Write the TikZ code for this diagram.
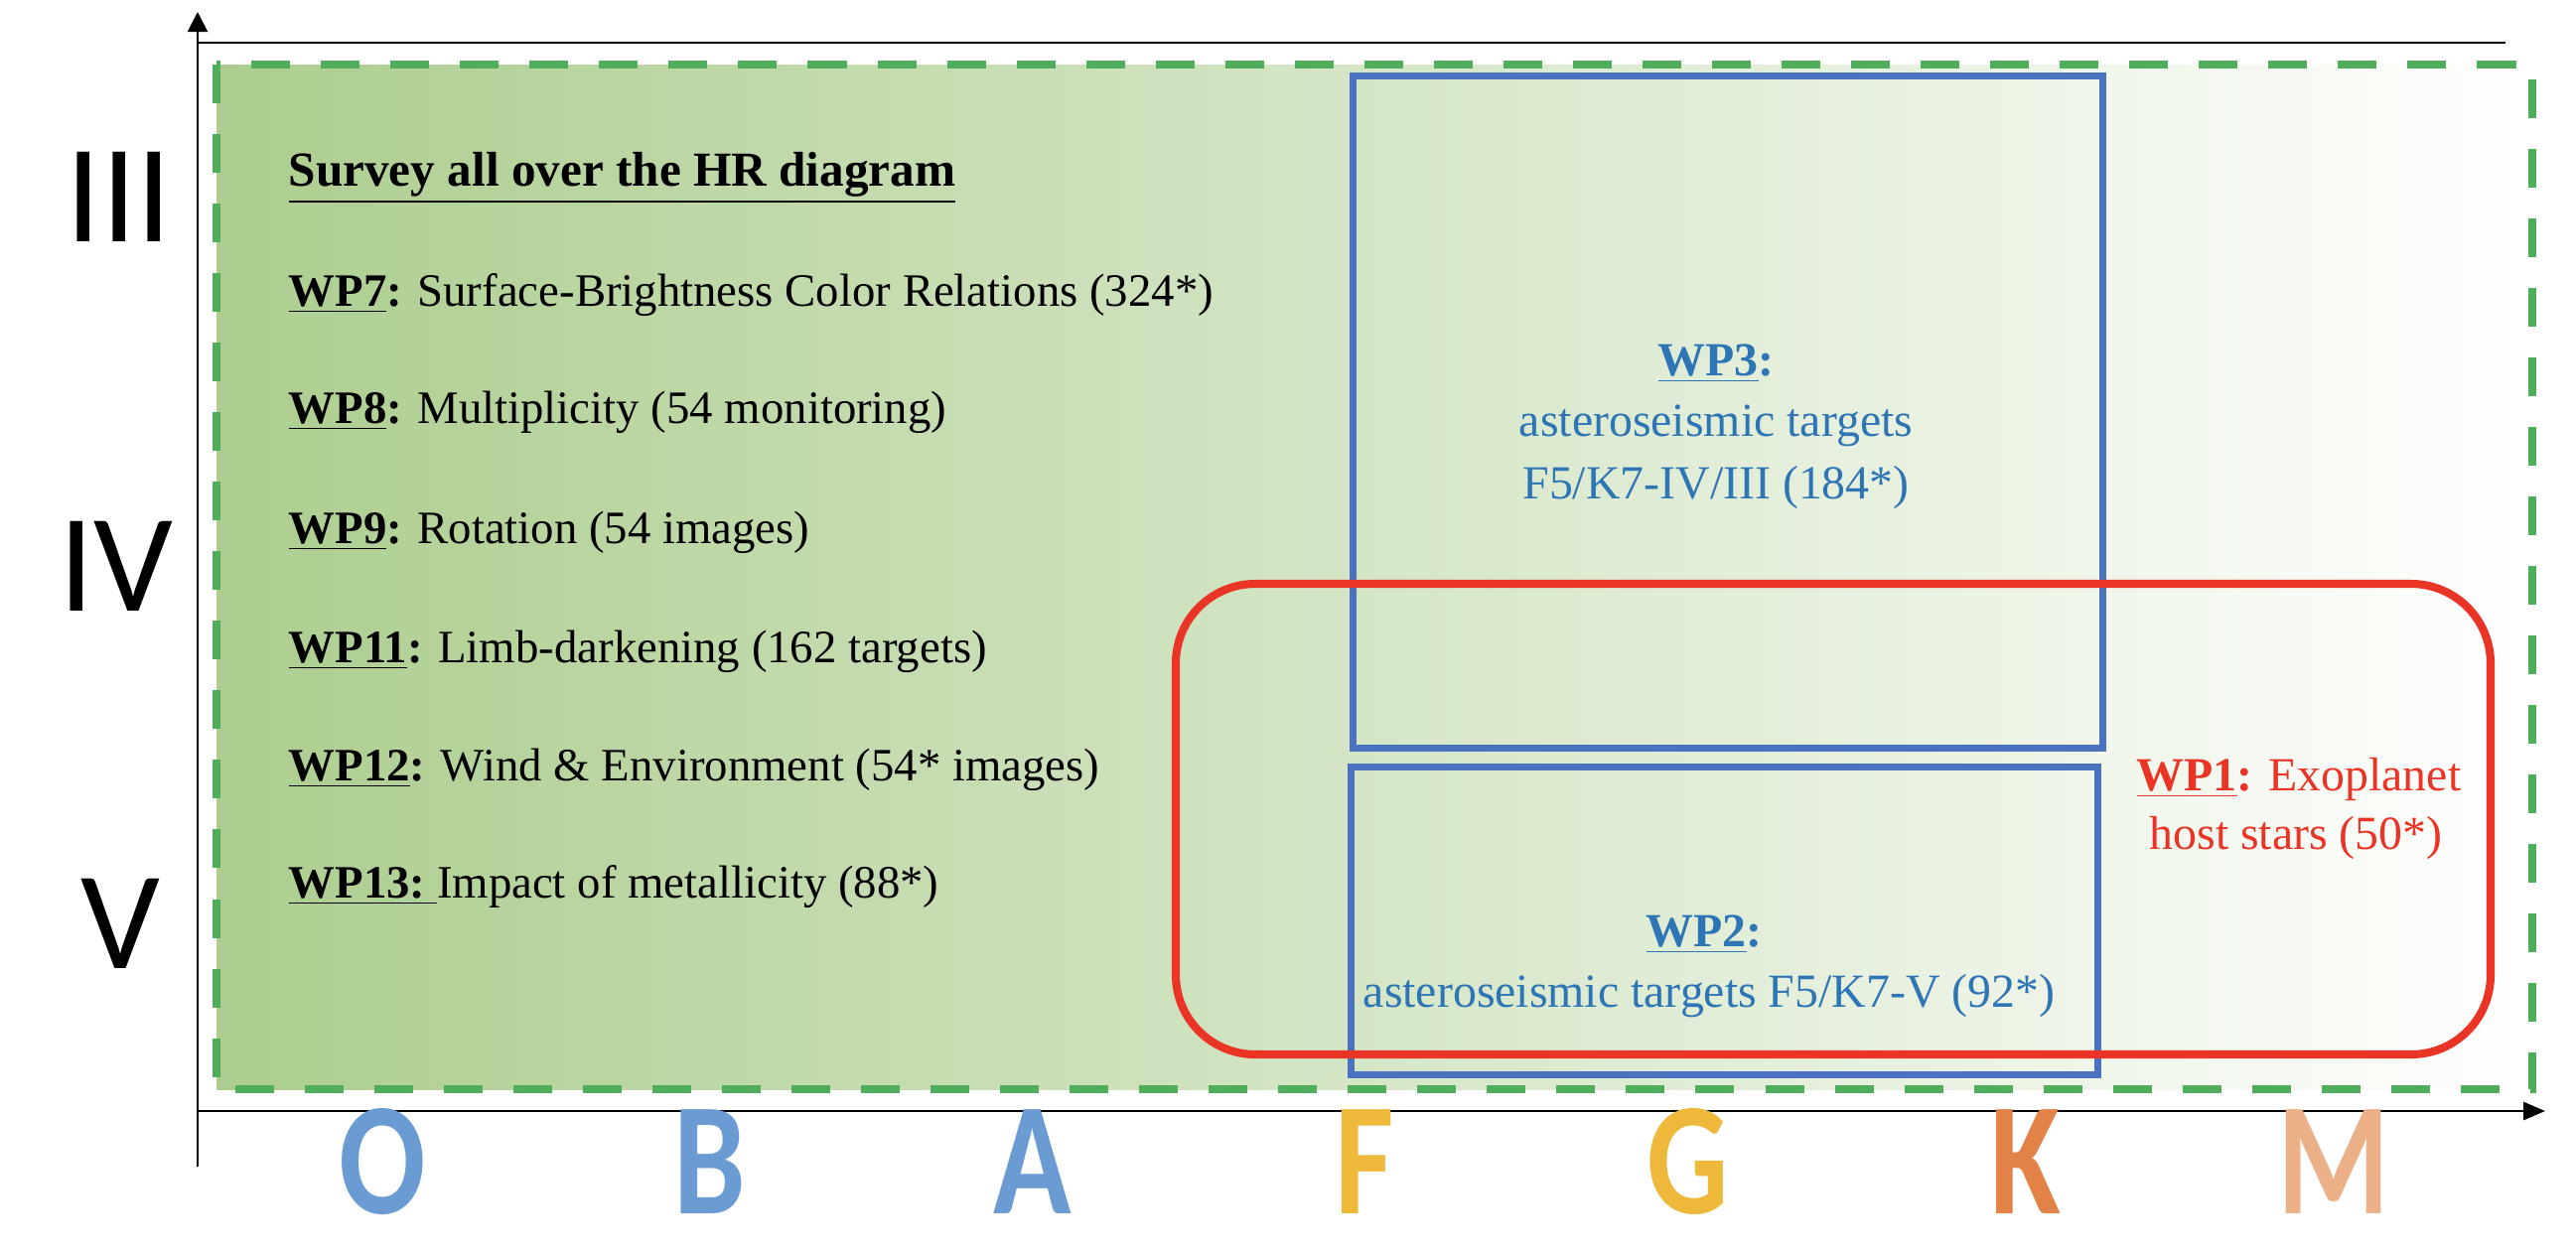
\documentclass[tikz,border=0pt]{standalone}
\usepackage{fontspec}
\setmainfont{Liberation Serif}
\newfontfamily\calfont{Carlito}
\usetikzlibrary{arrows.meta}

\definecolor{dashgreen}{RGB}{79,173,91}
\definecolor{shadeleft}{RGB}{172,205,143}
\definecolor{shademid}{RGB}{214,231,199}
\definecolor{boxblue}{RGB}{74,114,190}
\definecolor{textblue}{RGB}{46,117,182}
\definecolor{exored}{RGB}{233,52,38}
\definecolor{specblue}{RGB}{106,155,211}
\definecolor{specgold}{RGB}{238,184,58}
\definecolor{specorange}{RGB}{226,130,70}
\definecolor{specpeach}{RGB}{236,176,136}

\newcommand{\wpname}[1]{\underline{\textbf{#1}}\textbf{:}}

\tikzset{
  listtext/.style={anchor=base west, inner sep=0pt, font=\fontsize{13.3}{16}\selectfont},
  wptext/.style={anchor=base, inner sep=0pt, text=textblue, font=\fontsize{13.6}{16}\selectfont},
  wpbox/.style={draw=boxblue, line width=2pt},
  roman/.style={inner sep=0pt, font=\calfont\fontsize{40}{40}\selectfont},
  spectral/.style={anchor=base, inner sep=0pt, xscale=0.8, font=\calfont\bfseries\fontsize{46}{46}\selectfont},
}

\begin{document}
\begin{tikzpicture}[x=0.01cm, y=-0.01cm]
        \useasboundingbox (0,0) rectangle (2594,1262);

        % survey field
        \shade[left color=shadeleft, middle color=shademid, right color=white] (218,65) rectangle (2550,1097);
        \draw[dashgreen, line width=2.5pt, dash pattern=on 0.39cm off 0.31cm] (218,65) rectangle (2550,1097);

        % axes
        \coordinate (origin) at (199,1119);
        \coordinate (ytop) at (199,12);
        \coordinate (ybot) at (199,1175);
        \coordinate (xend) at (2563,1119);
        \coordinate (topend) at (2523,43);
        \draw[line width=0.6pt, -{Triangle[length=0.2cm, width=0.2cm]}] (ybot) -- (ytop);
        \draw[line width=0.8pt, -{Triangle[length=0.22cm, width=0.18cm]}] (origin) -- (xend);
        \draw[line width=0.8pt] (ytop |- topend) -- (topend);

        % luminosity classes
        \node[roman] (cIII) at (120,198) {III};
        \node[roman] (cIV) at (117,570) {IV};
        \node[roman] (cV) at (121,930) {V};

        % spectral types
        \node[spectral, text=specblue] (tO) at (385,1222) {O};
        \node[spectral, text=specblue] (tB) at (715,1222) {B};
        \node[spectral, text=specblue] (tA) at (1040,1222) {A};
        \node[spectral, text=specgold] (tF) at (1374,1222) {F};
        \node[spectral, text=specgold] (tG) at (1700,1222) {G};
        \node[spectral, text=specorange] (tK) at (2040,1222) {K};
        \node[spectral, text=specpeach] (tM) at (2350,1222) {M};

        % survey work packages
        \node[listtext, font=\fontsize{14}{16}\selectfont] (survey) at (290,187) {\underline{\textbf{Survey all over the HR diagram}}};
        \node[listtext] (wp7) at (290,308) {\wpname{WP7} Surface-Brightness Color Relations (324*)};
        \node[listtext] (wp8) at (290,426) {\wpname{WP8} Multiplicity (54 monitoring)};
        \node[listtext] (wp9) at (290,547) {\wpname{WP9} Rotation (54 images)};
        \node[listtext] (wp11) at (290,667) {\wpname{WP11} Limb-darkening (162 targets)};
        \node[listtext] (wp12) at (290,786) {\wpname{WP12} Wind \& Environment (54* images)};
        \node[listtext] (wp13) at (290,904) {\underline{\textbf{WP13:}\ }Impact of metallicity (88*)};

        % asteroseismic boxes
        \draw[wpbox] (1362,76) rectangle (2117,753);
        \draw[wpbox] (1360,772) rectangle (2112,1082);
        \node[wptext] (wp3) at (1728,378) {\wpname{WP3}};
        \node[wptext] (wp3a) at (1728,439) {asteroseismic targets};
        \node[wptext] (wp3b) at (1728,502) {F5/K7-IV/III (184*)};
        \node[wptext] (wp2) at (1716,953) {\wpname{WP2}};
        \node[wptext] (wp2a) at (1721,1014) {asteroseismic targets F5/K7-V (92*)};

        % exoplanet hosts
        \draw[exored, line width=2.3pt, rounded corners=0.8cm] (1184,588) rectangle (2508,1062);
        \node[wptext, text=exored] (wp1) at (2315,796) {\wpname{WP1} Exoplanet};
        \node[wptext, text=exored] (wp1a) at (2312,855) {host stars (50*)};
\end{tikzpicture}
\end{document}
